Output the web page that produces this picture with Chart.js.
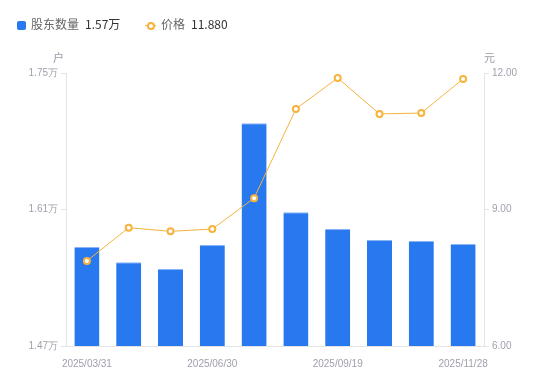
<!DOCTYPE html>
<html>
<head>
<meta charset="utf-8">
<script src="https://cdn.jsdelivr.net/npm/chart.js@4.4.1/dist/chart.umd.min.js"></script>
<style>
  body { margin: 0; background: #fff; font-family: "Noto Sans CJK SC", "Liberation Sans", sans-serif; }
  #wrap { position: relative; width: 550px; height: 381px; }
  .legend { position: absolute; top: 15px; font-size: 12px; color: #666; white-space: nowrap; }
  .legend b { font-weight: normal; color: #333; margin-left: 6px; }
  .sq { display: inline-block; width: 9px; height: 9px; background: #2878f0; border-radius: 2px; margin-right: 5px; vertical-align: -1px; }
  .ln { display: inline-block; position: relative; width: 11px; height: 9px; margin-right: 5px; vertical-align: -1px; }
  .ln:before { content: ""; position: absolute; left: 0; right: 0; top: 4px; height: 1px; background: #f7b33c; }
  .ln:after { content: ""; position: absolute; left: 2px; top: 1px; width: 4px; height: 4px; border: 2px solid #f7b33c; border-radius: 50%; background: #fff; }
  .unit { position: absolute; top: 49px; font-size: 11px; color: #999aa8; }
</style>
</head>
<body>
<div id="wrap">
  <canvas id="chart" width="550" height="381"></canvas>
  <div class="legend" style="left:17px"><span class="sq"></span>股东数量<b>1.57万</b></div>
  <div class="legend" style="left:145px"><span class="ln"></span>价格<b>11.880</b></div>
  <div class="unit" style="left:53px">户</div>
  <div class="unit" style="left:484px">元</div>
</div>
<script>
// 数据
const datas = ['2025/03/31', '2025/04/18', '2025/05/20', '2025/06/30', '2025/07/18',
               '2025/08/08', '2025/09/19', '2025/10/10', '2025/10/31', '2025/11/28'];
const acionistas = [1.5715, 1.5560, 1.5490, 1.5735, 1.6985, 1.6072, 1.5900, 1.5787, 1.5777, 1.5745]; // 万户
const precos = [7.87, 8.60, 8.52, 8.57, 9.25, 11.21, 11.89, 11.10, 11.12, 11.87]; // 元

const corTick = '#a0a0ae';
const corGrade = '#e3e3e8';

const ctx = document.getElementById('chart').getContext('2d');

new Chart(ctx, {
  type: 'bar',
  data: {
    labels: datas,
    datasets: [
      {
        type: 'line',
        label: '价格',
        data: precos,
        yAxisID: 'y1',
        borderColor: '#f7b33c',
        borderWidth: 1,
        tension: 0,
        pointRadius: 3,
        pointBorderWidth: 2,
        pointBackgroundColor: '#fff',
        pointBorderColor: '#f7b33c',
        order: 0
      },
      {
        label: '股东数量',
        data: acionistas,
        yAxisID: 'y',
        backgroundColor: '#2878f0',
        borderColor: '#8bb4f5',
        borderWidth: { top: 1, left: 0, right: 0, bottom: 0 },
        borderSkipped: 'bottom',
        barPercentage: 0.6,
        categoryPercentage: 1,
        order: 1
      }
    ]
  },
  options: {
    responsive: false,
    animation: false,
    layout: { padding: { top: 73, bottom: 11, left: 0, right: 0 } },
    plugins: { legend: { display: false }, tooltip: { enabled: false } },
    scales: {
      x: {
        grid: { display: false },
        border: { color: corGrade },
        afterFit: (s) => { s.height = 24; },
        ticks: {
          autoSkip: false,
          maxRotation: 0,
          color: corTick,
          font: { size: 10, family: 'Liberation Sans' },
          padding: 4,
          callback: function (v, i) { return i % 3 === 0 ? this.getLabelForValue(v) : ''; }
        }
      },
      y: {
        position: 'left',
        min: 1.47,
        max: 1.75,
        afterFit: (s) => { s.width = 66; },
        afterBuildTicks: (s) => { s.ticks = [{ value: 1.47 }, { value: 1.61 }, { value: 1.75 }]; },
        grid: { drawOnChartArea: false, color: corGrade, tickLength: 5 },
        border: { color: corGrade },
        ticks: {
          color: corTick,
          font: { size: 10, family: 'Liberation Sans' },
          padding: 3,
          callback: (v) => v.toFixed(2) + '万'
        }
      },
      y1: {
        position: 'right',
        min: 6,
        max: 12,
        afterFit: (s) => { s.width = 66; },
        afterBuildTicks: (s) => { s.ticks = [{ value: 6 }, { value: 9 }, { value: 12 }]; },
        grid: { drawOnChartArea: false, color: corGrade, tickLength: 5 },
        border: { color: corGrade },
        ticks: {
          color: corTick,
          font: { size: 10, family: 'Liberation Sans' },
          padding: 3,
          callback: (v) => v.toFixed(2)
        }
      }
    }
  }
});
</script>
</body>
</html>
